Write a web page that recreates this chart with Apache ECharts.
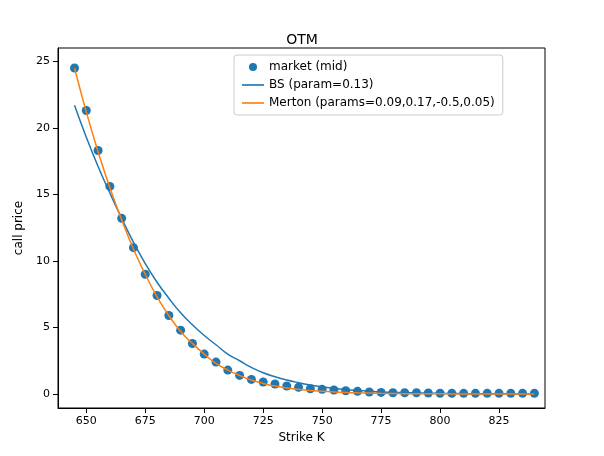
<!DOCTYPE html>
<html>
<head>
    <meta charset="utf-8">
    <script src="https://cdn.jsdelivr.net/npm/echarts@6/dist/echarts.min.js"></script>
</head>
<body style="margin:0">
<div id="main" style="width: 604px; height: 456px;"></div>
<script>
    var strikes = [];
    for (var k = 645; k <= 840; k += 5) strikes.push(k);
    var market = [24.5, 21.3, 18.3, 15.6, 13.2, 11.0, 9.0, 7.4, 5.9, 4.8, 3.8, 3.0, 2.4, 1.8, 1.4, 1.1,
        0.9, 0.75, 0.6, 0.5, 0.4, 0.35, 0.3, 0.25, 0.2, 0.15, 0.12, 0.1, 0.1, 0.1, 0.08, 0.06, 0.05, 0.05,
        0.05, 0.05, 0.05, 0.05, 0.05, 0.05];
    var bs = [21.7, 19.3, 17.1, 15.1, 13.2, 11.4, 9.8, 8.4, 7.2, 6.1, 5.2, 4.4, 3.7, 3.0, 2.5, 2.0,
        1.6, 1.3, 1.05, 0.85, 0.68, 0.54, 0.43, 0.34, 0.27, 0.21, 0.16, 0.13, 0.1, 0.08, 0.06, 0.05, 0.04,
        0.03, 0.025, 0.02, 0.015, 0.012, 0.01, 0.01];
    var merton = [24.5, 21.2, 18.2, 15.5, 13.1, 10.9, 9.0, 7.3, 5.9, 4.7, 3.8, 3.0, 2.3, 1.8, 1.4, 1.05,
        0.8, 0.6, 0.45, 0.35, 0.27, 0.2, 0.15, 0.12, 0.09, 0.07, 0.05, 0.04, 0.03, 0.025, 0.02, 0.015,
        0.01, 0.01, 0.01, 0.005, 0.005, 0.005, 0.005, 0.005];
    var xTicks = [650, 675, 700, 725, 750, 775, 800, 825];
    var yTicks = [0, 5, 10, 15, 20, 25];

    function pairs(vals) {
        return strikes.map(function (s, i) { return [s, vals[i]]; });
    }

    var font = 'DejaVu Sans';
    var lineIcon = 'path://M0,0 H20 V1.5 H0 Z';
    var myChart = echarts.init(document.getElementById('main'));
    myChart.setOption({
        animation: false,
        textStyle: { fontFamily: font },
        title: { text: 'OTM', left: 'center', top: 28, textStyle: { fontFamily: font, fontSize: 14, fontWeight: 'normal', color: '#000' } },
        grid: { left: 58, top: 48, width: 487, height: 360 },
        legend: {
            orient: 'vertical', left: 234, top: 55, itemGap: 6,
            borderColor: '#ccc', borderWidth: 1, borderRadius: 3, padding: [6, 8],
            textStyle: { fontFamily: font, fontSize: 12, color: '#000' },
            itemWidth: 22, itemHeight: 8,
            data: [
                { name: 'market (mid)', icon: 'circle' },
                { name: 'BS (param=0.13)', icon: lineIcon, itemHeight: 2 },
                { name: 'Merton (params=0.09,0.17,-0.5,0.05)', icon: lineIcon, itemHeight: 2 }
            ]
        },
        xAxis: {
            type: 'value', min: 638, max: 844.5,
            name: 'Strike K', nameLocation: 'middle', nameGap: 22,
            nameTextStyle: { fontFamily: font, fontSize: 12, color: '#000' },
            splitLine: { show: false },
            axisLine: { onZero: false, lineStyle: { color: '#000' } },
            axisTick: { show: true, customValues: xTicks, lineStyle: { color: '#000' } },
            axisLabel: { customValues: xTicks, color: '#000', fontSize: 11 }
        },
        yAxis: {
            type: 'value', min: -1.05, max: 26,
            name: 'call price', nameLocation: 'middle', nameGap: 32,
            nameTextStyle: { fontFamily: font, fontSize: 12, color: '#000' },
            splitLine: { show: false },
            axisLine: { show: true, onZero: false, lineStyle: { color: '#000' } },
            axisTick: { show: true, customValues: yTicks, lineStyle: { color: '#000' } },
            axisLabel: { customValues: yTicks, color: '#000', fontSize: 11 }
        },
        series: [
            { name: 'market (mid)', type: 'scatter', data: pairs(market), symbolSize: 9, itemStyle: { color: '#1f77b4', opacity: 1 } },
            { name: 'BS (param=0.13)', type: 'line', smooth: 0.5, showSymbol: false, data: pairs(bs), lineStyle: { color: '#1f77b4', width: 1.5 }, itemStyle: { color: '#1f77b4' } },
            { name: 'Merton (params=0.09,0.17,-0.5,0.05)', type: 'line', smooth: 0.5, showSymbol: false, data: pairs(merton), lineStyle: { color: '#ff7f0e', width: 1.5 }, itemStyle: { color: '#ff7f0e' } }
        ],
        graphic: [{ type: 'rect', shape: { x: 58, y: 48, width: 487, height: 360 }, style: { fill: 'none', stroke: '#000', lineWidth: 1 }, silent: true }]
    });
</script>
</body>
</html>
